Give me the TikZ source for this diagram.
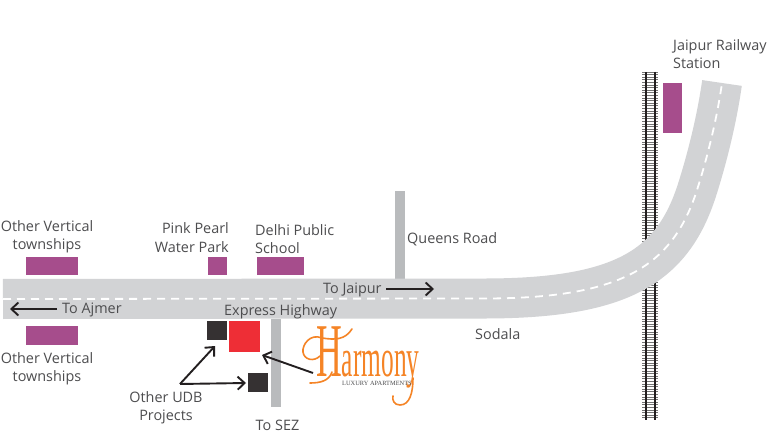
\documentclass[tikz,border=0pt]{standalone}
\usepackage{fontspec}
\setmainfont{Open Sans}
\newfontfamily\logofont{Liberation Serif}
\usetikzlibrary{arrows.meta}
\definecolor{roadgray}{HTML}{D2D3D5}
\definecolor{sidegray}{HTML}{B9BBBD}
\definecolor{plum}{HTML}{A64D8C}
\definecolor{inkgray}{HTML}{4D4D4F}
\definecolor{inkblack}{HTML}{231F20}
\definecolor{redbox}{HTML}{EE2E36}
\definecolor{logoorange}{HTML}{F58426}
\tikzset{
  lbl/.style={font=\fontsize{14.4}{18.2}\selectfont, text=inkgray, inner sep=0pt, align=center},
  block/.style={inner sep=0pt, outer sep=0pt, minimum width=#1},
  plumbox/.style={fill=plum, draw=white, line width=0.4pt},
  blackbox/.style={fill=inkblack!92!white},
  pointer/.style={draw=inkblack, line width=1.9pt, -{Straight Barb[length=7pt,width=13pt,line width=1.9pt]}},
  swash/.style={draw=logoorange, line width=1.6pt, line cap=round}
}
\def\roadpath{(3,299) -- (480,298.5) .. controls (620,299) and (672,268) .. (697,190) .. controls (705,165) and (716,125) .. (722,83)}
\begin{document}
\begin{tikzpicture}[x=1pt,y=-1pt]
\useasboundingbox (0,0) rectangle (780,441);
\fill[white] (0,0) rectangle (780,441);
% railway
\foreach \yy in {72,74.6,...,420} \draw[black!55,line width=0.8pt] (642,\yy) -- (658,\yy);
\draw[inkblack,line width=2pt] (645.7,72) -- (645.7,420);
\draw[inkblack,line width=2pt] (654.7,72) -- (654.7,420);
% side roads
\fill[sidegray] (395,191) rectangle (405,285);
\fill[sidegray] (271,319) rectangle (281,407);
% main road
\draw[roadgray,line width=40pt] \roadpath;
\draw[white,line width=1.8pt,dash pattern=on 8pt off 6pt] \roadpath;
% blocks
\node[block=53pt,minimum height=19pt,plumbox] (t1) at (51.5,265.5) {};
\node[block=20pt,minimum height=19pt,plumbox] (pp) at (217,265.5) {};
\node[block=48pt,minimum height=19pt,plumbox] (dp) at (280,265.5) {};
\node[block=53pt,minimum height=20pt,plumbox] (t2) at (51.5,335) {};
\node[block=20pt,minimum height=51pt,plumbox] (st) at (672,107.5) {};
\node[block=20pt,minimum height=19pt,blackbox] (b1) at (217,330.5) {};
\node[block=20pt,minimum height=19pt,blackbox] (b2) at (257.5,382.5) {};
\node[block=31pt,minimum height=31pt,fill=redbox] (rd) at (244.5,336) {};
% labels
\node[lbl] (l1) at (47,237) {Other Vertical\\townships};
\node[lbl] (l2) at (47,369) {Other Vertical\\townships};
\node[lbl,align=right,anchor=east] (l3) at (229,237.5) {Pink Pearl\\Water Park};
\node[lbl,align=left,anchor=west] (l4) at (255,239) {Delhi Public\\School};
\node[lbl,anchor=west] (l5) at (62,310) {To Ajmer};
\node[lbl,anchor=west] (l6) at (323,290) {To Jaipur};
\node[lbl,anchor=west] (l7) at (224,312) {Express Highway};
\node[lbl,anchor=west] (l8) at (407,239) {Queens Road};
\node[lbl,anchor=west] (l9) at (475,334) {Sodala};
\node[lbl] (l10) at (277.5,425) {To SEZ};
\node[lbl] (l11) at (166,407.5) {Other UDB\\Projects};
\node[lbl,align=left,anchor=west] (l12) at (673,54) {Jaipur Railway\\Station};
% logo
\node[anchor=base west,inner sep=0pt,text=logoorange,xscale=0.47] (logo) at (316,376)
  {\logofont\fontsize{54}{54}\selectfont{\fontsize{76}{76}\selectfont H}armony};
\node[anchor=base,inner sep=0pt,text=inkgray] (lux) at (377,385.5)
  {\logofont\fontsize{6.4}{6.4}\selectfont LUXURY APARTMENTS};
\draw[swash] (322,338) .. controls (310,333) and (302,345) .. (303,352) .. controls (304,360) and (314,362) .. (320,356);
\draw[swash] (322,338) .. controls (335,340) and (345,340) .. (352,329);
\draw[swash] (310,383) .. controls (320,383) and (329,381) .. (332,372);
\draw[swash] (413,378) .. controls (413,392) and (410,405) .. (400,405) .. controls (394,405) and (392,400) .. (393,396);
% arrows
\coordinate (ajA) at (57,309); \coordinate (ajB) at (10,309);
\coordinate (jpA) at (386,289); \coordinate (jpB) at (434,289);
\coordinate (udb) at (180,384);
\coordinate (hA) at (313,373); \coordinate (hB) at (262,355);
\coordinate (b1t) at (215,346); \coordinate (b2t) at (246,383);
\draw[pointer] (ajA) -- (ajB);
\draw[pointer] (jpA) -- (jpB);
\draw[pointer] (udb) -- (b1t);
\draw[pointer] (udb) -- (b2t);
\draw[pointer] (hA) -- (hB);
\end{tikzpicture}
\end{document}
